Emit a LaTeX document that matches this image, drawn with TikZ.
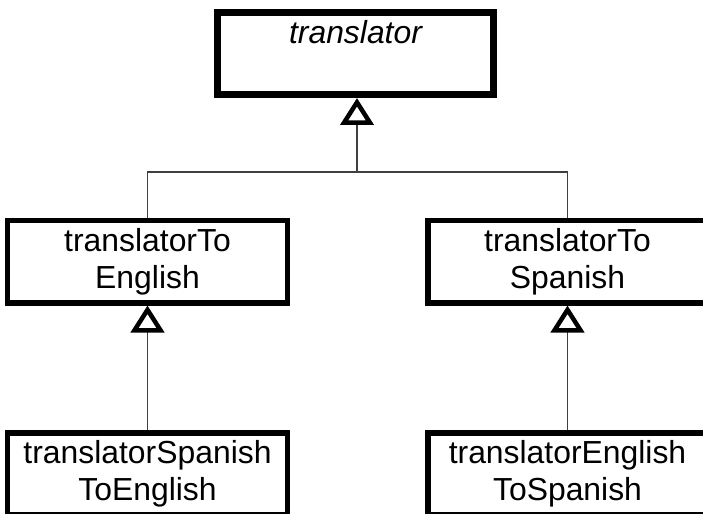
\documentclass[tikz,border=0pt]{standalone}
\usepackage{fontspec}
\setmainfont{Liberation Sans}
\usetikzlibrary{arrows.meta}

\tikzset{
  classbox/.style={draw, rectangle, line width=5.5bp, align=center,
    minimum width=279.5bp, minimum height=82bp, inner sep=2bp,
    font=\fontsize{32}{37}\selectfont},
  inherit/.style={draw=black!75, line width=1.3bp,
    -{Triangle[fill=white, color=black, line width=4.5bp, length=27bp, width=33bp]}},
}

\begin{document}
\begin{tikzpicture}[x=1bp, y=-1bp]
    \useasboundingbox (0,0) rectangle (703,514);

    % Base class
    \node[classbox, anchor=north, line width=7bp, minimum width=276bp,
          text height=22bp, text depth=42bp, inner ysep=8.5bp,
          font=\fontsize{32}{37}\selectfont\itshape]
          (translator) at (355.5,9) {translator};

    % Subclasses
    \node[classbox, anchor=north] (toEnglish) at (147.5,218) {translatorTo\\English};
    \node[classbox, anchor=north] (toSpanish) at (567.5,218) {translatorTo\\Spanish};

    % Leaf classes
    \node[classbox, anchor=north] (spanishToEnglish) at (147.5,430) {translatorSpanish\\ToEnglish};
    \node[classbox, anchor=north] (englishToSpanish) at (567.5,430) {translatorEnglish\\ToSpanish};

    % Generalisation
    \coordinate (junction) at (357,172);
    \draw[inherit] (toEnglish.north) |- (junction) -- (translator.south -| junction);
    \draw[draw=black!75, line width=1.3bp] (toSpanish.north) |- (junction);
    \draw[inherit] (spanishToEnglish.north) -- (toEnglish.south);
    \draw[inherit] (englishToSpanish.north) -- (toSpanish.south);
\end{tikzpicture}
\end{document}
